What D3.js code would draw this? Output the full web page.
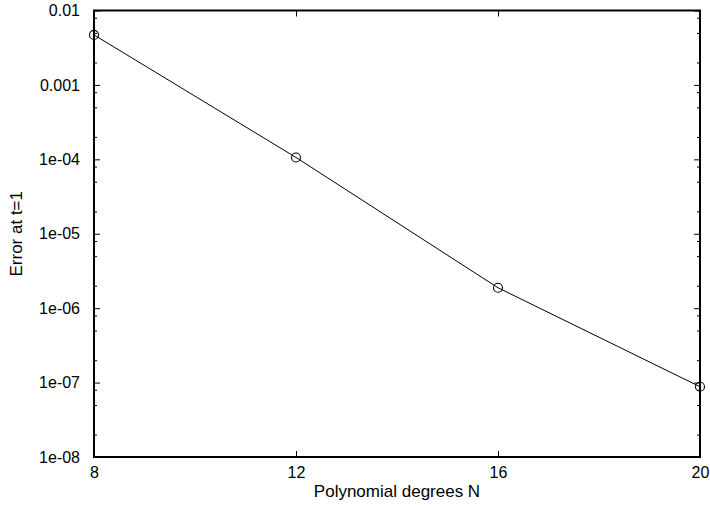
<!DOCTYPE html>
<html><head><meta charset="utf-8">
<script src="https://cdn.jsdelivr.net/npm/d3@7"></script>
<style>body{margin:0;background:#fff}svg{display:block}text{font-family:"Liberation Sans",Arial,sans-serif}</style>
</head><body>
<svg id="c" width="710" height="505"></svg>
<script>
const degrees = [8, 12, 16, 20];
const errors = [4.7e-3, 1.06e-4, 1.88e-6, 8.8e-8];
const xTicks = [8, 12, 16, 20];
const yTicks = [1e-8, 1e-7, 1e-6, 1e-5, 1e-4, 1e-3, 1e-2];
const yTickLabels = ["1e-08", "1e-07", "1e-06", "1e-05", "1e-04", "0.001", "0.01"];
const minorMult = [2, 5, 8];

const svg = d3.select("#c");
const L = 94, R = 700, T = 10.5, B = 457;
const x = d3.scaleLinear().domain([8, 20]).range([L, R]);
const y = d3.scaleLog().domain([1e-8, 1e-2]).range([B, T]);
const fs = 16;
const fsLab = 17;

const minors = [];
yTicks.slice(0, -1).forEach(d => minorMult.forEach(m => minors.push(d * m)));

const gL = svg.append("g").attr("transform", `translate(${L},0)`)
  .call(d3.axisLeft(y).tickValues(yTicks).tickFormat((d, i) => yTickLabels[i]).tickSizeInner(-6).tickSizeOuter(0).tickPadding(14));
const gLm = svg.append("g").attr("transform", `translate(${L},0)`)
  .call(d3.axisLeft(y).tickValues(minors).tickFormat("").tickSizeInner(-3).tickSizeOuter(0));
const gR = svg.append("g").attr("transform", `translate(${R},0)`)
  .call(d3.axisRight(y).tickValues(yTicks).tickFormat("").tickSizeInner(-6).tickSizeOuter(0));
const gRm = svg.append("g").attr("transform", `translate(${R},0)`)
  .call(d3.axisRight(y).tickValues(minors).tickFormat("").tickSizeInner(-3).tickSizeOuter(0));
const gB = svg.append("g").attr("transform", `translate(0,${B})`)
  .call(d3.axisBottom(x).tickValues(xTicks).tickFormat(d3.format("d")).tickSizeInner(-6).tickSizeOuter(0).tickPadding(10));
const gT = svg.append("g").attr("transform", `translate(0,${T})`)
  .call(d3.axisTop(x).tickValues(xTicks).tickFormat("").tickSizeInner(-6).tickSizeOuter(0));

[gL, gLm, gR, gRm, gB, gT].forEach(g => {
  g.select(".domain").remove();
  g.selectAll("line").attr("stroke", "#000").attr("stroke-width", 1);
  g.selectAll("text").attr("fill", "#000").style("font-size", fs + "px")
    .style("font-family", '"Liberation Sans",Arial,sans-serif');
});

svg.append("rect").attr("x", L).attr("y", T).attr("width", R - L).attr("height", B - T)
  .attr("fill", "none").attr("stroke", "#000").attr("stroke-width", 2);

const pts = degrees.map((d, i) => [d, errors[i]]);
svg.append("path").datum(pts)
  .attr("d", d3.line().x(d => x(d[0])).y(d => y(d[1])))
  .attr("fill", "none").attr("stroke", "#000").attr("stroke-width", 1);
svg.selectAll("circle.m").data(pts).enter().append("circle")
  .attr("cx", d => x(d[0])).attr("cy", d => y(d[1])).attr("r", 4.5)
  .attr("fill", "none").attr("stroke", "#000").attr("stroke-width", 1.1);

svg.append("text").attr("x", (L + R) / 2).attr("y", 497).attr("text-anchor", "middle")
  .style("font-size", fsLab + "px").text("Polynomial degrees N");
svg.append("text").attr("transform", `translate(22,${(T + B) / 2}) rotate(-90)`)
  .attr("text-anchor", "middle").style("font-size", fsLab + "px").text("Error at t=1");
</script>
</body></html>
